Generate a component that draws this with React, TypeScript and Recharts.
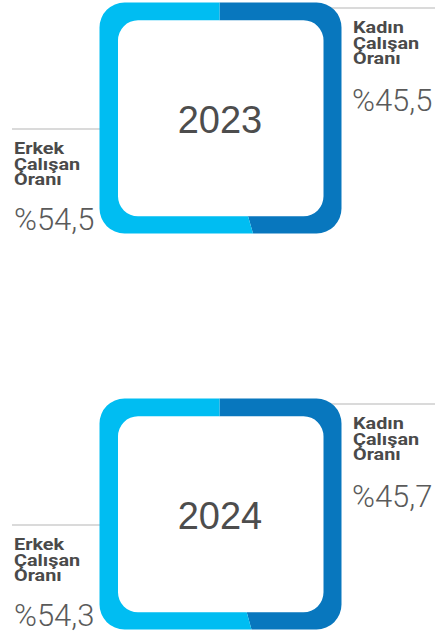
import React from 'react';
import { PieChart, Pie, Cell, Sector, Customized } from 'recharts';

// ---- data ----
const years = ['2023', '2024'];
const womenShare = [45.5, 45.7];
const menShare = [54.5, 54.3];
const womenLabel = ['Kadın', 'Çalışan', 'Oranı'];
const menLabel = ['Erkek', 'Çalışan', 'Oranı'];
const seriesColors = ['#0877BE', '#00BDF2'];

const fmt = (v: number) => '%' + v.toFixed(1).replace('.', ',');

const W = 435;
const H = 238;
const CX = 219.5;
const CY = 118;

function rr(x: number, y: number, w: number, h: number, r: number) {
  return `M${x + r},${y}H${x + w - r}A${r},${r} 0 0 1 ${x + w},${y + r}V${y + h - r}A${r},${r} 0 0 1 ${x + w - r},${y + h}H${x + r}A${r},${r} 0 0 1 ${x},${y + h - r}V${y + r}A${r},${r} 0 0 1 ${x + r},${y}Z`;
}

const ringPath = rr(99.5, 2.5, 242, 231, 25) + rr(118, 20.3, 205.5, 196, 20);

const labelFont = 'Roboto, "Liberation Sans", Arial, sans-serif';

function LabelBlock({ x, y, lines }: { x: number; y: number; lines: string[] }) {
  return (
    <>
      {lines.map((t, i) => (
        <g key={i} transform={`translate(${x},${y + i * 15.4}) scale(1.18,1)`}>
          <text x={0} y={0} fontFamily={labelFont} fontWeight={700} fontSize={16.8} fill="#4a4a4a">
            {t}
          </text>
        </g>
      ))}
    </>
  );
}

function Overlay({ id, year, women, men }: { id: string; year: string; women: number; men: number }) {
  return (
    <g>
      <defs>
        <clipPath id={id}>
          <path d={ringPath} clipRule="evenodd" />
        </clipPath>
      </defs>
      {/* year */}
      <text x={CX + 0.5} y={133} textAnchor="middle" fontFamily='"Liberation Sans", Arial, sans-serif' fontSize={38} fill="#4d4d4d">
        {year}
      </text>
      {/* right label (women) */}
      <line x1={331} y1={8} x2={435} y2={8} stroke="#b5b5b5" strokeWidth={1} />
      <LabelBlock x={353} y={33.3} lines={womenLabel} />
      <text x={352} y={111} fontFamily={labelFont} fontWeight={300} fontSize={31} fill="#5a5a5a">
        {fmt(women)}
      </text>
      {/* left label (men) */}
      <line x1={12} y1={129} x2={100} y2={129} stroke="#b5b5b5" strokeWidth={1} />
      <LabelBlock x={14} y={154.3} lines={menLabel} />
      <text x={14} y={230} fontFamily={labelFont} fontWeight={300} fontSize={31} fill="#5a5a5a">
        {fmt(men)}
      </text>
    </g>
  );
}

function RingChart({ idx }: { idx: number }) {
  const id = `ring-clip-${idx}`;
  const data = [
    { name: 'Kadın Çalışan Oranı', value: womenShare[idx] },
    { name: 'Erkek Çalışan Oranı', value: menShare[idx] },
  ];
  return (
    <PieChart width={W} height={H} margin={{ top: 0, right: 0, bottom: 0, left: 0 }}>
      <Customized component={<Overlay id={id} year={years[idx]} women={womenShare[idx]} men={menShare[idx]} />} />
      <Pie
        data={data}
        dataKey="value"
        nameKey="name"
        cx={CX}
        cy={CY}
        innerRadius={0}
        outerRadius={220}
        startAngle={90}
        endAngle={-270}
        stroke="none"
        isAnimationActive={false}
        shape={(props: any) => (
          <g clipPath={`url(#${id})`}>
            <Sector {...props} stroke="none" />
          </g>
        )}
      >
        {data.map((d, i) => (
          <Cell key={d.name} fill={seriesColors[i]} />
        ))}
      </Pie>
    </PieChart>
  );
}

export default function App() {
  return (
    <div style={{ position: 'absolute', left: 0, top: 0, width: W, height: 634, overflow: 'hidden', background: '#fff' }}>
      <div style={{ position: 'absolute', left: 0, top: 0 }}>
        <RingChart idx={0} />
      </div>
      <div style={{ position: 'absolute', left: 0, top: 396 }}>
        <RingChart idx={1} />
      </div>
    </div>
  );
}
